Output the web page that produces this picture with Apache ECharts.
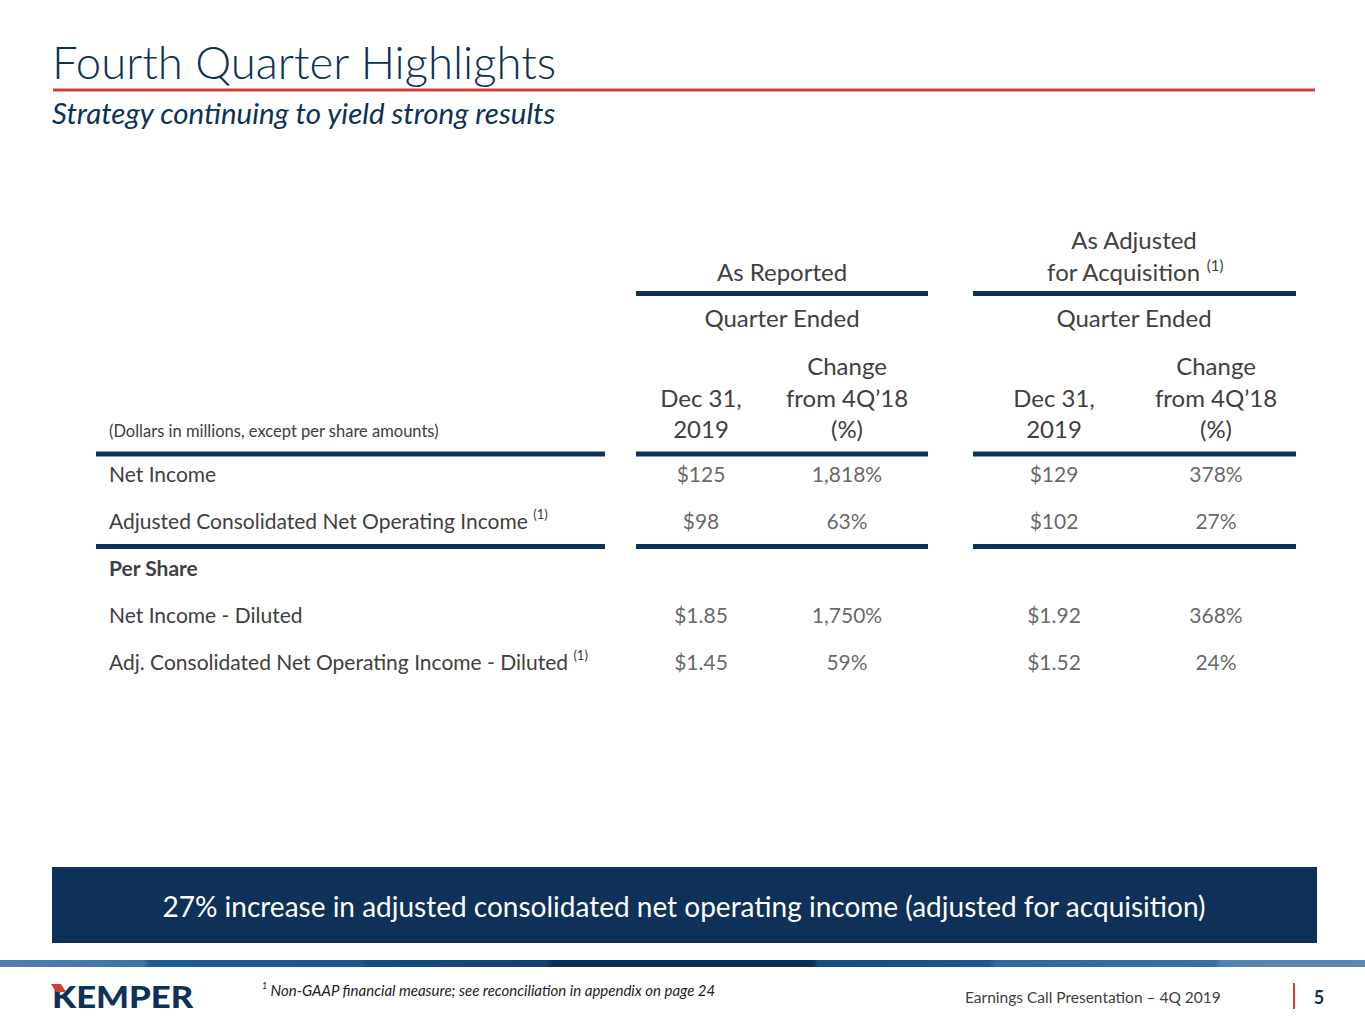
<!DOCTYPE html>
<html lang="en">
<head>
    <meta charset="UTF-8">
    <title>Fourth Quarter Highlights</title>
    <script type="text/javascript" src="https://cdn.jsdelivr.net/npm/echarts@6/dist/echarts.min.js"></script>
    <style>
        html, body { margin: 0; padding: 0; background: #fff; }
    </style>
</head>
<body>
<div id="container" style="width: 1365px; height: 1024px"></div>
<script type="text/javascript">

    // table data
    var rowNames = ['Net Income', 'Adjusted Consolidated Net Operating Income', 'Per Share',
        'Net Income - Diluted', 'Adj. Consolidated Net Operating Income - Diluted'];
    var rowNote = [false, true, false, false, true];
    var colHeaders = ['Dec 31,\n2019', 'Change\nfrom 4Q\u201918\n(%)'];
    var reportedValue = ['$125', '$98', '', '$1.85', '$1.45'];
    var reportedChange = ['1,818%', '63%', '', '1,750%', '59%'];
    var adjustedValue = ['$129', '$102', '', '$1.92', '$1.52'];
    var adjustedChange = ['378%', '27%', '', '368%', '24%'];

    var NAVY = '#0d3158';
    var GREY = '#404040';
    var RED = '#d23f3a';
    var FONT = 'Lato, "Open Sans", sans-serif';

    // build [col, row, text] points, skipping empty cells
    function cells(a, b) {
        var out = [];
        for (var i = 0; i < rowNames.length; i++) {
            if (a[i]) out.push([0, i, a[i]]);
            if (b[i]) out.push([1, i, b[i]]);
        }
        return out;
    }

    var dom = document.getElementById('container');
    var myChart = echarts.init(dom, null, { renderer: 'svg' });

    var xAxisBase = {
        type: 'category',
        position: 'top',
        data: colHeaders,
        axisLine: { show: false },
        axisTick: { show: false },
        splitLine: { show: false },
        axisLabel: {
            interval: 0,
            margin: 5,
            fontSize: 24,
            lineHeight: 31.5,
            color: GREY,
            fontFamily: FONT
        }
    };

    function hline(x1, x2, y, h) {
        return { type: 'rect', shape: { x: x1, y: y, width: x2 - x1, height: h }, style: { fill: NAVY } };
    }

    var option = {
        animation: false,
        textStyle: { fontFamily: FONT },
        grid: [
            { left: 628, width: 292, top: 449.5, height: 235 },
            { left: 973, width: 324, top: 449.5, height: 235 }
        ],
        xAxis: [
            Object.assign({ gridIndex: 0 }, xAxisBase),
            Object.assign({ gridIndex: 1 }, xAxisBase)
        ],
        yAxis: [
            {
                gridIndex: 0, type: 'category', inverse: true, data: rowNames,
                axisLine: { show: false }, axisTick: { show: false }, splitLine: { show: false },
                axisLabel: {
                    interval: 0,
                    align: 'left',
                    margin: 519,
                    formatter: function (v, i) {
                        if (i === 2) return '{b|' + v + '}';
                        return rowNote[i] ? '{t|' + v + ' }{s|(1)}' : '{t|' + v + '}';
                    },
                    rich: {
                        t: { fontSize: 21, lineHeight: 25, color: GREY, fontFamily: FONT },
                        b: { fontSize: 21, lineHeight: 25, color: GREY, fontFamily: FONT, fontWeight: 'bold' },
                        s: { fontSize: 13, lineHeight: 14, color: GREY, fontFamily: FONT, verticalAlign: 'top' }
                    }
                }
            },
            {
                gridIndex: 1, type: 'category', inverse: true, data: rowNames,
                axisLine: { show: false }, axisTick: { show: false }, splitLine: { show: false },
                axisLabel: { show: false }
            }
        ],
        series: [
            {
                type: 'scatter', xAxisIndex: 0, yAxisIndex: 0,
                symbolSize: 1, itemStyle: { color: 'rgba(0,0,0,0)' },
                data: cells(reportedValue, reportedChange),
                label: {
                    show: true, position: 'inside', fontSize: 21, color: GREY, fontFamily: FONT,
                    formatter: function (p) { return p.value[2]; }
                }
            },
            {
                type: 'scatter', xAxisIndex: 1, yAxisIndex: 1,
                symbolSize: 1, itemStyle: { color: 'rgba(0,0,0,0)' },
                data: cells(adjustedValue, adjustedChange),
                label: {
                    show: true, position: 'inside', fontSize: 21, color: GREY, fontFamily: FONT,
                    formatter: function (p) { return p.value[2]; }
                }
            }
        ],
        graphic: [
            // title block
            { type: 'text', left: 52, top: 38, style: { text: 'Fourth Quarter Highlights', fontSize: 45.5, fontWeight: 300, fill: NAVY, fontFamily: FONT } },
            { type: 'rect', shape: { x: 53, y: 88.5, width: 1262, height: 3 }, style: { fill: RED } },
            { type: 'text', left: 52, top: 97, style: { text: 'Strategy continuing to yield strong results', fontSize: 29.5, fontStyle: 'italic', fill: NAVY, fontFamily: FONT } },

            // column group headers
            { type: 'text', x: 782, y: 271, style: { text: 'As Reported', fontSize: 24, fill: GREY, fontFamily: FONT, align: 'center', verticalAlign: 'middle' } },
            { type: 'text', x: 1134, y: 239, style: { text: 'As Adjusted', fontSize: 24, fill: GREY, fontFamily: FONT, align: 'center', verticalAlign: 'middle' } },
            {
                type: 'text', x: 1135, y: 271, style: {
                    text: '{a|for Acquisition }{s|(1)}', align: 'center', verticalAlign: 'middle',
                    rich: {
                        a: { fontSize: 24, lineHeight: 28, fill: GREY, fontFamily: FONT },
                        s: { fontSize: 15, lineHeight: 16, fill: GREY, fontFamily: FONT, verticalAlign: 'top' }
                    }
                }
            },
            hline(636, 928, 291, 5),
            hline(973, 1296, 291, 5),
            { type: 'text', x: 782, y: 317, style: { text: 'Quarter Ended', fontSize: 24, fill: GREY, fontFamily: FONT, align: 'center', verticalAlign: 'middle' } },
            { type: 'text', x: 1134, y: 317, style: { text: 'Quarter Ended', fontSize: 24, fill: GREY, fontFamily: FONT, align: 'center', verticalAlign: 'middle' } },
            { type: 'text', x: 109, y: 431, style: { text: '(Dollars in millions, except per share amounts)', fontSize: 16.5, fill: GREY, fontFamily: FONT, verticalAlign: 'middle' } },

            // table rules
            hline(96, 605, 451.5, 5),
            hline(636, 928, 451.5, 5),
            hline(973, 1296, 451.5, 5),
            hline(96, 605, 544, 5),
            hline(636, 928, 544, 5),
            hline(973, 1296, 544, 5),

            // banner
            { type: 'rect', shape: { x: 52, y: 867, width: 1265, height: 76 }, style: { fill: NAVY } },
            { type: 'text', x: 684, y: 906, style: { text: '27% increase in adjusted consolidated net operating income (adjusted for acquisition)', fontSize: 28, fill: '#ffffff', fontFamily: FONT, align: 'center', verticalAlign: 'middle' } },

            // footer stripe
            {
                type: 'rect', shape: { x: 0, y: 960, width: 1365, height: 7 },
                style: {
                    fill: new echarts.graphic.LinearGradient(0, 0, 1, 0, [
                        { offset: 0, color: '#4f80ab' }, { offset: 0.105, color: '#3f73a2' },
                        { offset: 0.11, color: '#1f5d96' }, { offset: 0.265, color: '#1b5690' },
                        { offset: 0.27, color: '#154a7d' }, { offset: 0.4, color: '#12416f' },
                        { offset: 0.405, color: '#0b2f55' }, { offset: 0.595, color: '#0c3158' },
                        { offset: 0.6, color: '#164b7e' }, { offset: 0.725, color: '#1c5893' },
                        { offset: 0.73, color: '#2b67a0' }, { offset: 0.89, color: '#3a70a3' },
                        { offset: 0.895, color: '#5083ad' }, { offset: 1, color: '#5b8ab3' }
                    ])
                }
            },

            // logo
            { type: 'text', x: 52, y: 996, scaleX: 1.12, style: { text: 'KEMPER', fontSize: 31, fontWeight: 900, fill: NAVY, fontFamily: FONT, verticalAlign: 'middle' } },
            { type: 'polygon', shape: { points: [[51, 984], [61, 984], [66, 992], [56, 992]] }, style: { fill: RED } },

            // footnote and page info
            {
                type: 'text', x: 262, y: 990, style: {
                    text: '{s|1} {t|Non-GAAP financial measure; see reconciliation in appendix on page 24}', verticalAlign: 'middle',
                    rich: {
                        s: { fontSize: 9, lineHeight: 10, fill: '#222', fontFamily: FONT, fontStyle: 'italic', verticalAlign: 'top' },
                        t: { fontSize: 15, lineHeight: 18, fill: '#222', fontFamily: FONT, fontStyle: 'italic' }
                    }
                }
            },
            { type: 'text', x: 965, y: 997, style: { text: 'Earnings Call Presentation \u2013 4Q 2019', fontSize: 15.5, fill: GREY, fontFamily: FONT, verticalAlign: 'middle' } },
            { type: 'rect', shape: { x: 1293, y: 983, width: 2, height: 26 }, style: { fill: RED } },
            { type: 'text', x: 1319, y: 997, style: { text: '5', fontSize: 18, fontWeight: 'bold', fill: NAVY, fontFamily: FONT, align: 'center', verticalAlign: 'middle' } }
        ]
    };

    myChart.setOption(option);
    window.addEventListener('resize', myChart.resize);

</script>
</body>
</html>
